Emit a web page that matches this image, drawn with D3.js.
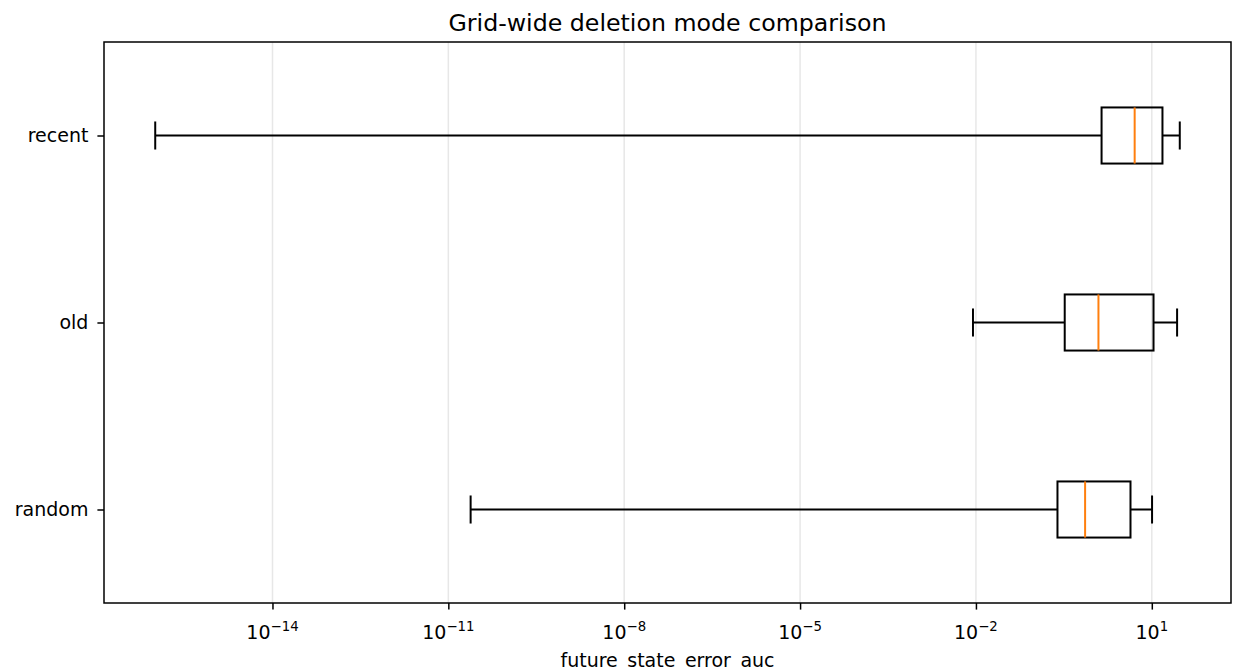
<!DOCTYPE html>
<html>
<head>
<meta charset="utf-8">
<script src="https://cdn.jsdelivr.net/npm/d3@7"></script>
<style>
  html, body { margin: 0; padding: 0; background: #fff; }
  svg { display: block; font-family: "DejaVu Sans", sans-serif; }
</style>
</head>
<body>
<svg id="chart" width="1233" height="670"></svg>
<script>
// ---- data ----
const categories   = ["random", "old", "recent"];      // bottom -> top (positions 1,2,3)
const whiskerLow   = [2.4e-11, 0.0089, 1e-16];
const q1           = [0.246, 0.327, 1.39];
const medians      = [0.728, 1.23, 5.1];
const q3           = [4.33, 10.7, 15.2];
const whiskerHigh  = [10.1, 27, 30];
const tickExponents = [-14, -11, -8, -5, -2, 1];
const titleText = "Grid-wide deletion mode comparison";
const xLabelText = "future_state_error_auc";

// ---- layout ----
const W = 1233, H = 670;
const plot = { left: 104, right: 1231, top: 42, bottom: 603 };
const tickFont = 19, titleFont = 23.7;
const boxHalf = 0.15, capHalf = 0.075;

const svg = d3.select("#chart");

// x: log scale with matplotlib-style 5% margins in log space
const lo = Math.log10(d3.min(whiskerLow)), hi = Math.log10(d3.max(whiskerHigh));
const pad = (hi - lo) * 0.05;
const x = d3.scaleLog()
  .domain([Math.pow(10, lo - pad), Math.pow(10, hi + pad)])
  .range([plot.left, plot.right]);

const y = d3.scaleLinear().domain([0.5, categories.length + 0.5]).range([plot.bottom, plot.top]);

const tickVals = tickExponents.map(e => Math.pow(10, e));

// grid
svg.append("g").selectAll("line").data(tickVals).join("line")
  .attr("x1", d => x(d)).attr("x2", d => x(d))
  .attr("y1", plot.top).attr("y2", plot.bottom)
  .attr("stroke", "#b0b0b0").attr("stroke-opacity", 0.3).attr("stroke-width", 1.5);

// boxes
const rows = categories.map((c, i) => ({
  c, pos: i + 1, lo: whiskerLow[i], q1: q1[i], med: medians[i], q3: q3[i], hi: whiskerHigh[i]
}));
const g = svg.append("g");
const lw = 2;
rows.forEach(r => {
  const yc = y(r.pos);
  const yb = y(r.pos - boxHalf), yt = y(r.pos + boxHalf);
  const cb = y(r.pos - capHalf), ct = y(r.pos + capHalf);
  // whiskers
  g.append("line").attr("x1", x(r.lo)).attr("x2", x(r.q1)).attr("y1", yc).attr("y2", yc)
    .attr("stroke", "#000").attr("stroke-width", lw);
  g.append("line").attr("x1", x(r.q3)).attr("x2", x(r.hi)).attr("y1", yc).attr("y2", yc)
    .attr("stroke", "#000").attr("stroke-width", lw);
  // caps
  g.append("line").attr("x1", x(r.lo)).attr("x2", x(r.lo)).attr("y1", cb).attr("y2", ct)
    .attr("stroke", "#000").attr("stroke-width", lw);
  g.append("line").attr("x1", x(r.hi)).attr("x2", x(r.hi)).attr("y1", cb).attr("y2", ct)
    .attr("stroke", "#000").attr("stroke-width", lw);
  // box
  g.append("rect").attr("x", x(r.q1)).attr("y", yt)
    .attr("width", x(r.q3) - x(r.q1)).attr("height", yb - yt)
    .attr("fill", "none").attr("stroke", "#000").attr("stroke-width", lw);
  // median
  g.append("line").attr("x1", x(r.med)).attr("x2", x(r.med)).attr("y1", yt).attr("y2", yb)
    .attr("stroke", "#ff7f0e").attr("stroke-width", lw);
});

// spines
svg.append("rect").attr("x", plot.left).attr("y", plot.top)
  .attr("width", plot.right - plot.left).attr("height", plot.bottom - plot.top)
  .attr("fill", "none").attr("stroke", "#000").attr("stroke-width", 1.5);

// x axis ticks
const xAxis = d3.axisBottom(x).tickValues(tickVals).tickSize(6.6).tickFormat("");
const xg = svg.append("g").attr("transform", `translate(0,${plot.bottom})`).call(xAxis);
xg.select(".domain").remove();
xg.selectAll(".tick line").attr("stroke", "#000").attr("stroke-width", 1.5);

// x tick labels with superscripts
const xl = svg.append("g");
tickExponents.forEach((e, i) => {
  const t = xl.append("text")
    .attr("x", x(tickVals[i])).attr("y", 639)
    .attr("text-anchor", "middle")
    .attr("font-size", tickFont).attr("fill", "#000");
  t.append("tspan").text("10");
  t.append("tspan").attr("dy", -8).attr("font-size", 13.3)
    .text(e < 0 ? "\u2212" + Math.abs(e) : String(e));
});

// y axis ticks + labels
const yAxis = d3.axisLeft(y).tickValues(rows.map(r => r.pos)).tickSize(6.6)
  .tickPadding(9).tickFormat((d) => categories[d - 1]);
const yg = svg.append("g").attr("transform", `translate(${plot.left},0)`).call(yAxis);
yg.select(".domain").remove();
yg.selectAll(".tick line").attr("stroke", "#000").attr("stroke-width", 1.5);
yg.selectAll(".tick text").attr("font-size", tickFont).attr("fill", "#000")
  .attr("font-family", "DejaVu Sans");

// title
svg.append("text").attr("x", (plot.left + plot.right) / 2).attr("y", 30.5)
  .attr("text-anchor", "middle").attr("font-size", titleFont).attr("fill", "#000")
  .text(titleText);

// x label
svg.append("text").attr("x", (plot.left + plot.right) / 2).attr("y", 666.5)
  .attr("text-anchor", "middle").attr("font-size", tickFont).attr("fill", "#000")
  .text(xLabelText);
</script>
</body>
</html>
